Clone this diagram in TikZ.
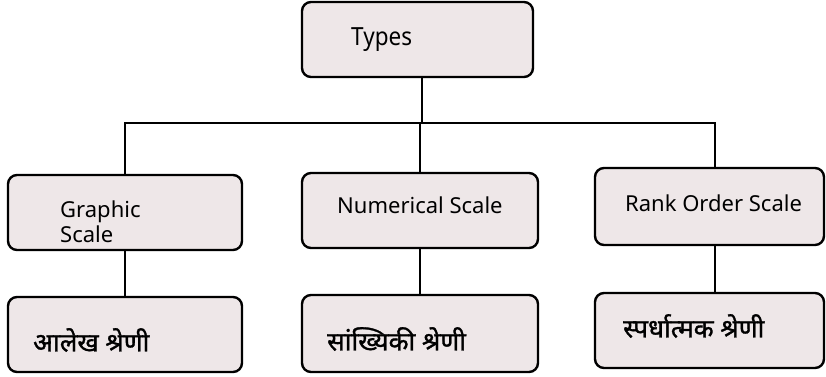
\documentclass[tikz,border=0pt]{standalone}
\usepackage{fontspec}
\setmainfont{Noto Sans}
\newfontfamily\hindi[Script=Devanagari,FakeBold=1.2]{Noto Sans}
\newfontfamily\typesfont[FakeStretch=0.9]{Noto Sans}
\definecolor{boxfill}{RGB}{238,231,232}
\begin{document}
\begin{tikzpicture}[x=1pt,y=-1pt,
  box/.style={draw=black, line width=2.4pt, rounded corners=9pt, fill=boxfill},
  lbl/.style={anchor=west, inner sep=0pt, font=\fontsize{22}{25}\selectfont, align=left},
  hlbl/.style={anchor=west, inner sep=0pt, font=\hindi\fontsize{26}{30}\selectfont},
  conn/.style={line width=1.9pt}]
\useasboundingbox (0,0) rectangle (826,376);
% boxes
\draw[box] (302,2) rectangle (533,77);
\draw[box] (8,175) rectangle (242,250);
\draw[box] (302,173) rectangle (538,248);
\draw[box] (595,168) rectangle (824,245);
\draw[box] (8,297) rectangle (242,372);
\draw[box] (302,295) rectangle (538,372);
\draw[box] (595,293) rectangle (824,368);
% named anchors
\coordinate (types) at (422,77);
\coordinate (gs) at (125,175);
\coordinate (gsb) at (125,250);
\coordinate (ns) at (420,173);
\coordinate (nsb) at (420,248);
\coordinate (rs) at (715,168);
\coordinate (rsb) at (715,245);
\coordinate (gh) at (125,297);
\coordinate (nh) at (420,295);
\coordinate (rh) at (715,293);
\coordinate (j) at (422,123);
% connectors
\draw[conn] (types) -- (j);
\draw[conn] (gs) |- (j) -| (rs);
\draw[conn] (ns |- j) -- (ns);
\draw[conn] (gsb) -- (gh);
\draw[conn] (nsb) -- (nh);
\draw[conn] (rsb) -- (rh);
% labels
\node[lbl, font=\typesfont\fontsize{25}{30}\selectfont] (t1) at (351,40) {Types};
\node[lbl] (t2) at (60,222) {Graphic\\Scale};
\node[lbl] (t3) at (337,205) {Numerical Scale};
\node[lbl] (t4) at (625,203) {Rank Order Scale};
\node[hlbl] (t5) at (33,340) {आलेख श्रेणी};
\node[hlbl] (t6) at (327,339) {सांख्यिकी श्रेणी};
\node[hlbl] (t7) at (623,326) {स्पर्धात्मक श्रेणी};
\end{tikzpicture}
\end{document}
